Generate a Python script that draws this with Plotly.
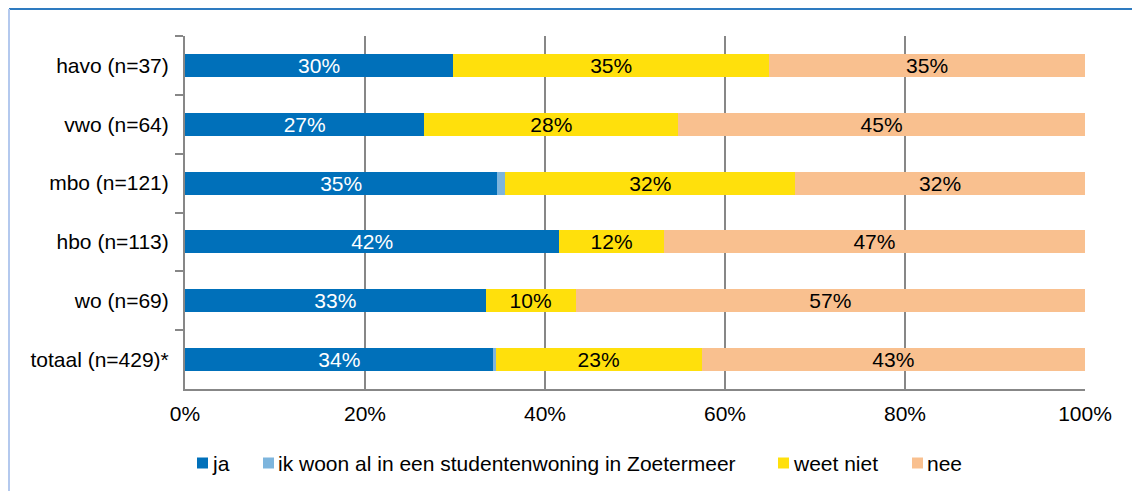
import plotly.graph_objects as go

categories = ["havo (n=37)", "vwo (n=64)", "mbo (n=121)", "hbo (n=113)", "wo (n=69)", "totaal (n=429)*"]
series_names = ["ja", "ik woon al in een studentenwoning in Zoetermeer", "weet niet", "nee"]
ja = [29.8, 26.6, 34.7, 41.6, 33.4, 34.3]
woon_al = [0.0, 0.0, 0.9, 0.0, 0.0, 0.2]
weet_niet = [35.1, 28.2, 32.2, 11.6, 10.0, 22.9]
nee = [35.1, 45.2, 32.2, 46.8, 56.6, 42.6]
tick_vals = [0, 20, 40, 60, 80, 100]
tick_text = ["0%", "20%", "40%", "60%", "80%", "100%"]

colors = ["#0070BA", "#7DB5DD", "#FFE00C", "#F9C08F"]
text_colors = ["white", "black", "black", "black"]
values = [ja, woon_al, weet_niet, nee]

FONT = "Liberation Sans, Arial, sans-serif"
FS = 21

# the page body has an 8px margin, so the figure starts at screen (8, 8)
OFF = 8
W, H = 1140 - OFF, 491 - OFF
L, R, T, B = 185, 1085, 36, 389   # plot area in screen pixels


def px_x(p):
    return (p - L) / (R - L)


def px_y(p):
    return (B - p) / (B - T)


fig = go.Figure()
for i, (name, vals) in enumerate(zip(series_names, values)):
    show_text = i != 1
    fig.add_trace(go.Bar(
        y=categories, x=vals, name=name, orientation="h",
        marker=dict(color=colors[i], line=dict(width=0)),
        texttemplate="%{x:.0f}%" if show_text else None,
        textposition="inside" if show_text else "none",
        insidetextanchor="middle",
        textangle=0,
        textfont=dict(color=text_colors[i], size=FS, family=FONT),
        hoverinfo="skip",
        showlegend=False,
    ))

# manual legend (squares + labels), positions in screen pixels
legend_marker_x = [197, 263, 778, 912]
legend_y = 463
shapes = []
annotations = []
for i, name in enumerate(series_names):
    x0 = legend_marker_x[i]
    shapes.append(dict(type="rect", xref="paper", yref="paper",
                       x0=px_x(x0), x1=px_x(x0 + 11),
                       y0=px_y(legend_y + 5.5), y1=px_y(legend_y - 5.5),
                       fillcolor=colors[i], line=dict(width=0)))
    annotations.append(dict(xref="paper", yref="paper", x=px_x(x0 + 13), y=px_y(legend_y),
                            xanchor="left", yanchor="middle", text=name, showarrow=False,
                            font=dict(size=FS, family=FONT, color="black")))

# frame around the chart
shapes.append(dict(type="line", xref="paper", yref="paper", x0=px_x(9), x1=px_x(1140),
                   y0=px_y(9), y1=px_y(9), line=dict(color="#2E7BC0", width=2)))
shapes.append(dict(type="line", xref="paper", yref="paper", x0=px_x(9), x1=px_x(9),
                   y0=px_y(9), y1=px_y(491), line=dict(color="#B4C9EE", width=2)))

fig.update_layout(
    width=W, height=H,
    barmode="stack",
    bargap=0.61,
    paper_bgcolor="white",
    plot_bgcolor="white",
    margin=dict(l=L - OFF, r=1140 - R, t=T - OFF, b=491 - B, pad=0, autoexpand=False),
    font=dict(family=FONT, size=FS, color="black"),
    showlegend=False,
    uniformtext=dict(minsize=FS, mode="show"),
    xaxis=dict(
        range=[0, 100], tickvals=tick_vals, ticktext=tick_text,
        showgrid=True, gridcolor="#878787", gridwidth=2,
        showline=True, linecolor="#878787", linewidth=2,
        zeroline=False, ticks="", tickfont=dict(size=FS, family=FONT),
        ticklabelstandoff=5,
        automargin=False, fixedrange=True,
    ),
    yaxis=dict(
        autorange="reversed", showgrid=False,
        showline=True, linecolor="#878787", linewidth=2,
        ticks="outside", tickson="boundaries", ticklen=8, tickcolor="#878787", tickwidth=2,
        tickfont=dict(size=FS, family=FONT), ticklabelstandoff=10,
        automargin=False, fixedrange=True,
    ),
    shapes=shapes,
    annotations=annotations,
)

fig.write_html("out.html")
